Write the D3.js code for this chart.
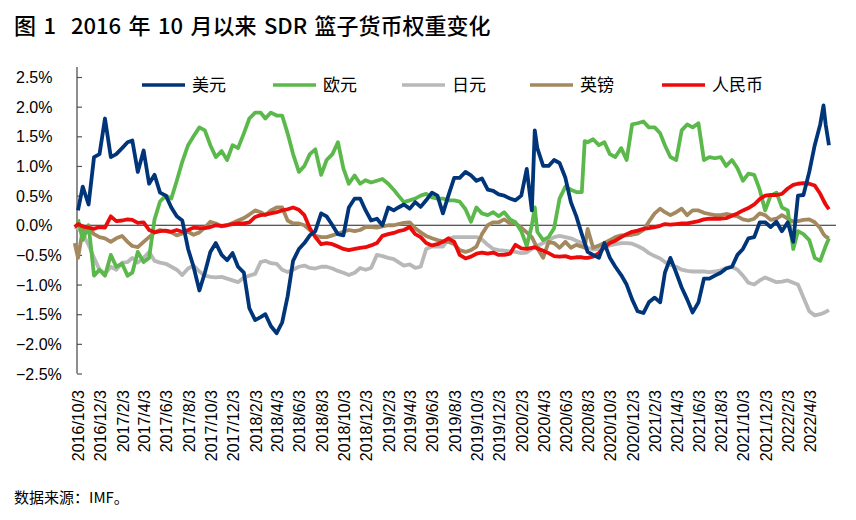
<!DOCTYPE html>
<html><head><meta charset="utf-8">
<script src="https://cdn.jsdelivr.net/npm/d3@7/dist/d3.min.js"></script>
<style>
body{margin:0;background:#fff;}
svg{display:block;}
text{font-family:"Noto Sans CJK SC","Liberation Sans",sans-serif;fill:#000;}
.num{font-family:"Liberation Sans",Arial,sans-serif;}
</style></head>
<body>
<svg id="c" width="856" height="520"></svg>
<script>
// ---------------- data ----------------
const title = "图 1  2016 年 10 月以来 SDR 篮子货币权重变化";
const source = "数据来源：IMF。";
const seriesNames = ["美元", "欧元", "日元", "英镑", "人民币"];
const seriesColors = ["#00357a", "#5bb94b", "#b8b8b8", "#a48960", "#ec0b0b"];
const yTicks = [2.5, 2.0, 1.5, 1.0, 0.5, 0.0, -0.5, -1.0, -1.5, -2.0, -2.5];
const xTickLabels = ["2016/10/3","2016/12/3","2017/2/3","2017/4/3","2017/6/3","2017/8/3","2017/10/3","2017/12/3",
  "2018/2/3","2018/4/3","2018/6/3","2018/8/3","2018/10/3","2018/12/3","2019/2/3","2019/4/3","2019/6/3","2019/8/3",
  "2019/10/3","2019/12/3","2020/2/3","2020/4/3","2020/6/3","2020/8/3","2020/10/3","2020/12/3","2021/2/3","2021/4/3",
  "2021/6/3","2021/8/3","2021/10/3","2021/12/3","2022/2/3","2022/4/3"];

const dates = [
  "2016-09-24","2016-10-03","2016-10-16","2016-11-01","2016-11-16","2016-12-01","2016-12-16",
  "2017-01-01","2017-01-16","2017-02-01","2017-02-16","2017-03-01","2017-03-16","2017-04-01","2017-04-16","2017-05-01","2017-05-16","2017-06-01","2017-06-16",
  "2017-07-01","2017-07-16","2017-08-01","2017-08-16","2017-09-01","2017-09-16","2017-10-01","2017-10-16","2017-11-01","2017-11-16","2017-12-01","2017-12-16",
  "2018-01-01","2018-01-16","2018-02-01","2018-02-16","2018-03-01","2018-03-16","2018-04-01","2018-04-16","2018-05-01","2018-05-16","2018-06-01","2018-06-16",
  "2018-07-01","2018-07-16","2018-08-01","2018-08-16","2018-09-01","2018-09-16","2018-10-01","2018-10-16","2018-11-01","2018-11-16","2018-12-01","2018-12-16",
  "2019-01-01","2019-01-16","2019-02-01","2019-02-16","2019-03-01","2019-03-16","2019-04-01","2019-04-16","2019-05-01","2019-05-16","2019-06-01","2019-06-16",
  "2019-07-01","2019-07-16","2019-08-01","2019-08-16","2019-09-01","2019-09-16","2019-10-01","2019-10-16","2019-11-01","2019-11-16","2019-12-01","2019-12-16",
  "2020-01-01","2020-01-16","2020-02-01","2020-02-16","2020-03-01","2020-03-09","2020-03-16","2020-04-01","2020-04-16","2020-05-01","2020-05-16","2020-06-01","2020-06-16",
  "2020-07-01","2020-07-16","2020-07-24","2020-08-01","2020-08-16","2020-09-01","2020-09-16","2020-10-01","2020-10-16","2020-11-01","2020-11-16","2020-12-01","2020-12-16",
  "2021-01-01","2021-01-16","2021-02-01","2021-02-16","2021-03-01","2021-03-16","2021-04-01","2021-04-16","2021-05-01","2021-05-16","2021-06-01","2021-06-16",
  "2021-07-01","2021-07-16","2021-08-01","2021-08-16","2021-09-01","2021-09-16","2021-10-01","2021-10-16","2021-11-01","2021-11-16","2021-12-01","2021-12-16",
  "2022-01-01","2022-01-16","2022-02-01","2022-02-16","2022-03-01","2022-03-16","2022-04-01","2022-04-16","2022-05-01","2022-05-10","2022-05-16","2022-05-25"
];

// weight change, %
const usd = [
  null, 0.25, 0.65, 0.35, 1.15, 1.2, 1.8,
  1.15, 1.2, 1.3, 1.4, 1.43, 0.9, 1.26, 0.7, 0.85, 0.55, 0.5, 0.3, 0.15, 0.08, -0.4, -0.7, -1.1, -0.8, -0.45, -0.3, -0.5, -0.59, -0.47, -0.7,
  -0.8, -1.4, -1.6, -1.55, -1.5, -1.7, -1.82, -1.64, -1.2, -0.6, -0.4, -0.3, -0.17, -0.1, 0.2, 0.15, 0.0, -0.15, -0.17, 0.3, 0.45, 0.45, 0.25, 0.08,
  0.11, 0.0, 0.3, 0.25, 0.3, 0.35, 0.28, 0.39, 0.31, 0.42, 0.55, 0.5, 0.2, 0.5, 0.8, 0.8, 0.9, 0.84, 0.75, 0.79, 0.6, 0.58, 0.52, 0.5,
  0.45, 0.42, 0.5, 0.95, 0.25, 1.6, 1.3, 1.0, 1.0, 1.1, 1.05, 0.8, 0.39, 0.15, -0.15, -0.3, -0.45, -0.5, -0.55, -0.3, -0.55, -0.7, -0.84, -1.0, -1.25, -1.45,
  -1.48, -1.3, -1.22, -1.3, -0.8, -0.55, -0.8, -1.05, -1.25, -1.47, -1.3, -0.9, -0.9, -0.85, -0.8, -0.73, -0.7, -0.5, -0.4, -0.22, -0.2, 0.05, 0.05, -0.03,
  0.06, -0.1, 0.05, -0.28, 0.5, 0.51, 0.9, 1.35, 1.7, 2.02, 1.7, 1.35
];
const eur = [
  null, 0.1, -0.25, 0.0, -0.85, -0.75, -0.85,
  -0.5, -0.7, -0.65, -0.85, -0.8, -0.45, -0.62, -0.55, 0.1, 0.4, 0.5, 0.45, 0.75, 1.07, 1.35, 1.5, 1.65, 1.6, 1.35, 1.15, 1.25, 1.1, 1.35, 1.3,
  1.55, 1.8, 1.9, 1.9, 1.8, 1.9, 1.85, 1.85, 1.55, 1.2, 0.9, 1.0, 1.2, 1.28, 0.85, 1.1, 1.2, 1.4, 0.96, 0.7, 0.84, 0.7, 0.76, 0.72,
  0.75, 0.78, 0.7, 0.6, 0.5, 0.39, 0.42, 0.45, 0.5, 0.53, 0.47, 0.45, 0.45, 0.42, 0.42, 0.4, 0.27, 0.06, 0.3, 0.2, 0.17, 0.22, 0.15, 0.22,
  0.1, 0.05, -0.1, -0.35, 0.0, 0.3, -0.11, -0.25, -0.2, -0.05, 0.45, 0.65, 0.6, 0.56, 0.56, 1.42, 1.4, 1.45, 1.35, 1.4, 1.2, 1.15, 1.3, 1.1, 1.7, 1.72,
  1.75, 1.65, 1.65, 1.55, 1.35, 1.15, 1.1, 1.6, 1.7, 1.65, 1.72, 1.1, 1.15, 1.13, 1.15, 1.0, 1.1, 0.96, 0.75, 0.87, 0.85, 0.6, 0.25, 0.5,
  0.55, 0.3, 0.25, -0.4, -0.1, -0.15, -0.25, -0.55, -0.6, -0.45, -0.35, -0.22
];
const jpy = [
  -0.03, -0.05, -0.14, -0.33, -0.55, -0.75, -0.82,
  -0.7, -0.75, -0.63, -0.62, -0.55, -0.63, -0.55, -0.45, -0.6, -0.63, -0.65, -0.7, -0.75, -0.84, -0.73, -0.68, -0.78, -0.85, -0.87, -0.88, -0.87, -0.9, -0.93, -0.96,
  -0.88, -0.85, -0.82, -0.62, -0.6, -0.64, -0.65, -0.75, -0.79, -0.75, -0.7, -0.68, -0.72, -0.73, -0.7, -0.7, -0.73, -0.77, -0.8, -0.84, -0.8, -0.72, -0.75, -0.72,
  -0.5, -0.52, -0.55, -0.57, -0.62, -0.68, -0.66, -0.72, -0.7, -0.4, -0.36, -0.36, -0.36, -0.23, -0.2, -0.2, -0.2, -0.2, -0.2, -0.24, -0.33, -0.4, -0.42, -0.43,
  -0.44, -0.45, -0.47, -0.46, -0.4, -0.37, -0.35, -0.3, -0.25, -0.2, -0.18, -0.2, -0.22, -0.26, -0.3, -0.34, -0.38, -0.41, -0.4, -0.37, -0.34, -0.32, -0.3, -0.3, -0.31, -0.35,
  -0.4, -0.47, -0.52, -0.56, -0.62, -0.67, -0.7, -0.75, -0.77, -0.78, -0.78, -0.78, -0.79, -0.78, -0.76, -0.72, -0.7, -0.75, -0.85, -0.97, -1.0, -0.93, -0.88, -0.92,
  -0.96, -0.95, -0.93, -0.97, -1.0, -1.22, -1.45, -1.52, -1.5, -1.48, -1.46, -1.43
];
const gbp = [
  -0.3, -0.55, -0.08, -0.05, -0.15, -0.2, -0.22,
  -0.28, -0.22, -0.18, -0.28, -0.35, -0.37, -0.28, -0.2, -0.12, -0.08, -0.1, -0.12, -0.17, -0.14, -0.11, -0.16, -0.12, -0.04, 0.06, 0.03, -0.02, 0.0, 0.04, 0.08,
  0.12, 0.18, 0.25, 0.22, 0.17, 0.25, 0.3, 0.3, 0.08, 0.03, 0.03, 0.0, -0.08, -0.18, -0.2, -0.2, -0.17, -0.14, -0.11, -0.08, -0.1, -0.08, -0.03, -0.03,
  -0.04, -0.02, 0.0, 0.0, 0.02, 0.04, 0.05, -0.05, -0.12, -0.18, -0.22, -0.25, -0.27, -0.28, -0.32, -0.42, -0.45, -0.42, -0.36, -0.15, 0.0, 0.05, 0.05, 0.1,
  0.03, 0.03, -0.04, -0.12, -0.2, -0.3, -0.39, -0.55, -0.28, -0.3, -0.38, -0.28, -0.38, -0.33, -0.36, -0.38, -0.06, -0.38, -0.34, -0.3, -0.25, -0.2, -0.17, -0.17, -0.16, -0.14,
  -0.08, 0.06, 0.2, 0.28, 0.22, 0.17, 0.22, 0.28, 0.17, 0.25, 0.25, 0.21, 0.19, 0.17, 0.17, 0.19, 0.17, 0.15, 0.1, 0.08, 0.11, 0.2, 0.17, 0.09,
  0.11, 0.17, 0.11, 0.06, 0.07, 0.09, 0.1, 0.05, -0.05, -0.15, -0.19, -0.22
];
const cny = [
  -0.03, 0.02, -0.02, -0.04, -0.06, -0.03, -0.04,
  0.15, 0.07, 0.08, 0.1, 0.09, 0.04, 0.05, -0.08, -0.12, -0.1, -0.09, -0.11, -0.08, -0.11, -0.08, -0.04, -0.05, -0.05, -0.03, 0.0, -0.01, 0.0, 0.02, 0.03,
  0.03, 0.05, 0.14, 0.17, 0.18, 0.2, 0.22, 0.25, 0.27, 0.3, 0.26, 0.17, -0.05, -0.2, -0.32, -0.3, -0.32, -0.36, -0.4, -0.42, -0.4, -0.38, -0.37, -0.34,
  -0.3, -0.18, -0.15, -0.13, -0.1, -0.08, -0.03, -0.15, -0.2, -0.3, -0.34, -0.32, -0.28, -0.22, -0.28, -0.5, -0.56, -0.53, -0.48, -0.46, -0.48, -0.46, -0.5, -0.5,
  -0.48, -0.33, -0.39, -0.4, -0.38, -0.37, -0.39, -0.43, -0.47, -0.52, -0.53, -0.52, -0.55, -0.54, -0.54, -0.55, -0.55, -0.53, -0.47, -0.37, -0.3, -0.26, -0.2, -0.15, -0.11, -0.09,
  -0.06, -0.05, -0.03, -0.01, 0.02, 0.01, 0.02, 0.03, 0.03, 0.05, 0.07, 0.1, 0.11, 0.11, 0.11, 0.12, 0.16, 0.2, 0.25, 0.29, 0.35, 0.44, 0.5, 0.51,
  0.51, 0.53, 0.62, 0.68, 0.7, 0.71, 0.7, 0.67, 0.53, 0.42, 0.35, 0.27
];
const seriesValues = [usd, eur, jpy, gbp, cny];
const drawOrder = [2, 3, 1, 4, 0]; // 日元, 英镑, 欧元, 人民币, 美元

// ---------------- drawing ----------------
const svg = d3.select("#c");
const parse = d3.timeParse("%Y-%m-%d");
const parseTick = d3.timeParse("%Y/%m/%d");
const dateObjs = dates.map(parse);

const x = d3.scaleTime()
  .domain([parseTick(xTickLabels[0]), parseTick(xTickLabels[xTickLabels.length - 1])])
  .range([78, 810]);
const y = d3.scaleLinear().domain([-2.5, 2.5]).range([373.5, 77]);
const plotLeft = 77, plotRight = 836;

// title
svg.append("text").attr("x", 14).attr("y", 34)
  .attr("font-size", 22).attr("font-weight", 500)
  .attr("word-spacing", 2.5)
  .attr("xml:space", "preserve").style("white-space", "pre")
  .text(title);

// y axis
const yAxis = d3.axisRight(y).tickValues(yTicks).tickSize(5).tickFormat("");
const gy = svg.append("g").attr("transform", `translate(${plotLeft},0)`).call(yAxis);
gy.select(".domain").remove();
gy.selectAll(".tick line").attr("stroke", "#555").attr("stroke-width", 1.2);
svg.append("line").attr("x1", plotLeft).attr("x2", plotLeft).attr("y1", 67).attr("y2", y(-2.5))
  .attr("stroke", "#444").attr("stroke-width", 1.2);
svg.append("g").selectAll("text").data(yTicks).join("text")
  .attr("class", "num")
  .attr("x", 16).attr("y", d => y(d)).attr("dy", "0.38em")
  .attr("font-size", 16)
  .text(d => d3.format(".1f")(d) + "%");

// zero line
svg.append("line").attr("x1", plotLeft).attr("x2", plotRight).attr("y1", y(0)).attr("y2", y(0))
  .attr("stroke", "#222").attr("stroke-width", 1);

// x tick labels
svg.append("g").selectAll("text").data(xTickLabels).join("text")
  .attr("class", "num")
  .attr("transform", d => `translate(${x(parseTick(d))},390) rotate(-90)`)
  .attr("text-anchor", "end").attr("dy", "0.36em")
  .attr("font-size", 16)
  .text(d => d);

// lines
const line = d3.line()
  .defined(d => d[1] !== null)
  .x(d => x(d[0])).y(d => y(d[1]))
  .curve(d3.curveLinear);
drawOrder.forEach(i => {
  const pts = dateObjs.map((dt, k) => [dt, seriesValues[i][k]]);
  svg.append("path").datum(pts)
    .attr("fill", "none").attr("stroke", seriesColors[i])
    .attr("stroke-width", 3.8).attr("stroke-linejoin", "round").attr("stroke-linecap", "butt")
    .attr("d", line);
});

// legend
const legX = [142, 273, 402, 530, 662];
const lg = svg.append("g");
seriesNames.forEach((n, i) => {
  lg.append("line").attr("x1", legX[i]).attr("x2", legX[i] + 43).attr("y1", 85).attr("y2", 85)
    .attr("stroke", seriesColors[i]).attr("stroke-width", 3.5);
  lg.append("text").attr("x", legX[i] + 50).attr("y", 85).attr("dy", "0.36em")
    .attr("font-size", 17).text(n);
});

// source
svg.append("text").attr("x", 14).attr("y", 503).attr("font-size", 15).text(source);
</script>
</body></html>
